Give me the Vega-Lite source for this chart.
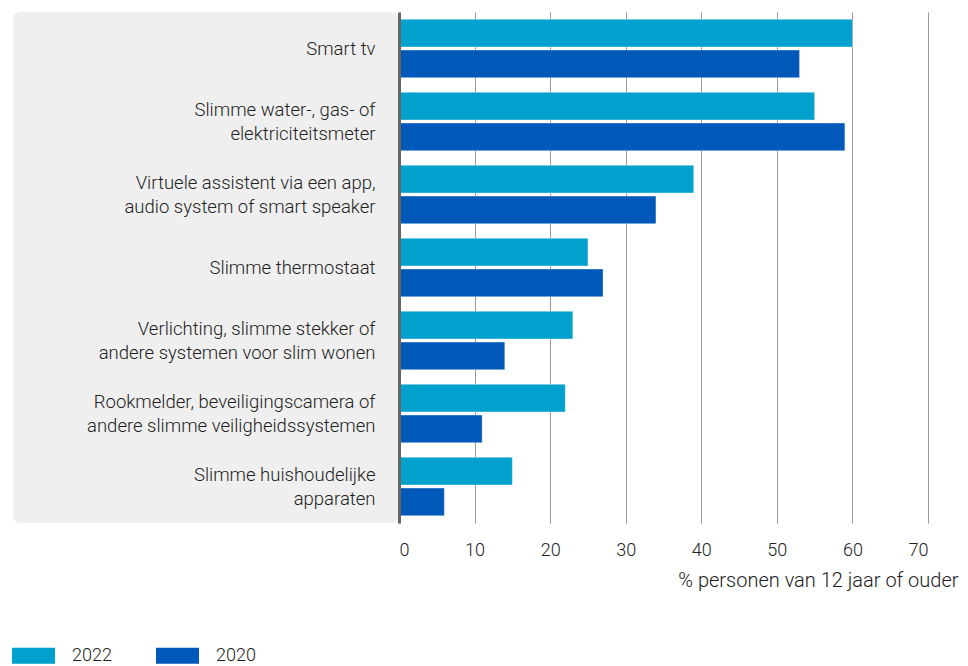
{
  "$schema": "https://vega.github.io/schema/vega-lite/v6.json",
  "width": 529,
  "height": 511,
  "padding": {"left": 12, "top": 12, "right": 5, "bottom": 0},
  "background": "white",
  "config": {"font": "Roboto", "view": {"stroke": null}},
  "layer": [
    {
      "data": {"values": [{}]},
      "mark": {"type": "rect", "color": "#efefef", "cornerRadius": 8},
      "encoding": {
        "x": {"datum": -51.1, "type": "quantitative"},
        "x2": {"datum": 0}
      }
    },
    {
      "data": {
        "values": [
          {"item": "Smart tv", "year": "2022", "value": 60},
          {"item": "Smart tv", "year": "2020", "value": 53},
          {"item": "Slimme water-, gas- of|elektriciteitsmeter", "year": "2022", "value": 55},
          {"item": "Slimme water-, gas- of|elektriciteitsmeter", "year": "2020", "value": 59},
          {"item": "Virtuele assistent via een app,|audio system of smart speaker", "year": "2022", "value": 39},
          {"item": "Virtuele assistent via een app,|audio system of smart speaker", "year": "2020", "value": 34},
          {"item": "Slimme thermostaat", "year": "2022", "value": 25},
          {"item": "Slimme thermostaat", "year": "2020", "value": 27},
          {"item": "Verlichting, slimme stekker of|andere systemen voor slim wonen", "year": "2022", "value": 23},
          {"item": "Verlichting, slimme stekker of|andere systemen voor slim wonen", "year": "2020", "value": 14},
          {"item": "Rookmelder, beveiligingscamera of|andere slimme veiligheidssystemen", "year": "2022", "value": 22},
          {"item": "Rookmelder, beveiligingscamera of|andere slimme veiligheidssystemen", "year": "2020", "value": 11},
          {"item": "Slimme huishoudelijke|apparaten", "year": "2022", "value": 15},
          {"item": "Slimme huishoudelijke|apparaten", "year": "2020", "value": 6}
        ]
      },
      "mark": {"type": "bar", "stroke": "#ffffff", "strokeWidth": 0.6, "strokeOpacity": 0.6},
      "encoding": {
        "x": {
          "field": "value",
          "type": "quantitative",
          "scale": {"domain": [0, 70], "nice": false},
          "axis": {
            "values": [0, 10, 20, 30, 40, 50, 60, 70],
            "title": "% personen van 12 jaar of ouder",
            "titleFontSize": 20,
            "titleFontWeight": 300,
            "titleColor": "#222222",
            "titleAnchor": "end",
            "titleAlign": "right",
            "titleX": 559,
            "titlePadding": 11,
            "labelFontSize": 18,
            "labelFontWeight": 300,
            "labelColor": "#222222",
            "labelPadding": 18,
            "domain": false,
            "ticks": false,
            "grid": true,
            "gridColor": "#999999",
            "gridWidth": 1,
            "zindex": 0
          }
        },
        "y": {
          "field": "item",
          "type": "nominal",
          "sort": null,
          "scale": {"paddingInner": 0.2, "paddingOuter": 0.1},
          "axis": {
            "title": null,
            "labelExpr": "split(datum.label, '|')",
            "labelFontSize": 18.5,
            "labelFontWeight": 300,
            "labelColor": "#222222",
            "labelLineHeight": 24,
            "labelBaseline": "middle",
            "labelOffset": {"condition": {"test": "indexof(datum.value, '|') >= 0", "value": -12}, "value": 0},
            "labelPadding": 24,
            "labelLimit": 0,
            "ticks": false,
            "domain": true,
            "domainColor": "#666666",
            "domainWidth": 3,
            "zindex": 1
          }
        },
        "yOffset": {
          "field": "year",
          "type": "nominal",
          "sort": ["2022", "2020"],
          "scale": {"paddingInner": 0.1}
        },
        "color": {
          "field": "year",
          "type": "nominal",
          "sort": ["2022", "2020"],
          "scale": {"domain": ["2022", "2020"], "range": ["#00a1cd", "#0058b8"]},
          "legend": {
            "title": null,
            "orient": "none",
            "legendX": -387,
            "legendY": 622,
            "direction": "horizontal",
            "symbolType": "M-1,-0.37L1,-0.37L1,0.37L-1,0.37Z",
            "symbolSize": 1849,
            "symbolStrokeWidth": 0,
            "symbolOpacity": 1,
            "labelFontSize": 18,
            "labelFontWeight": 300,
            "labelColor": "#222222",
            "labelOffset": 17,
            "columnPadding": 44
          }
        }
      }
    }
  ]
}
